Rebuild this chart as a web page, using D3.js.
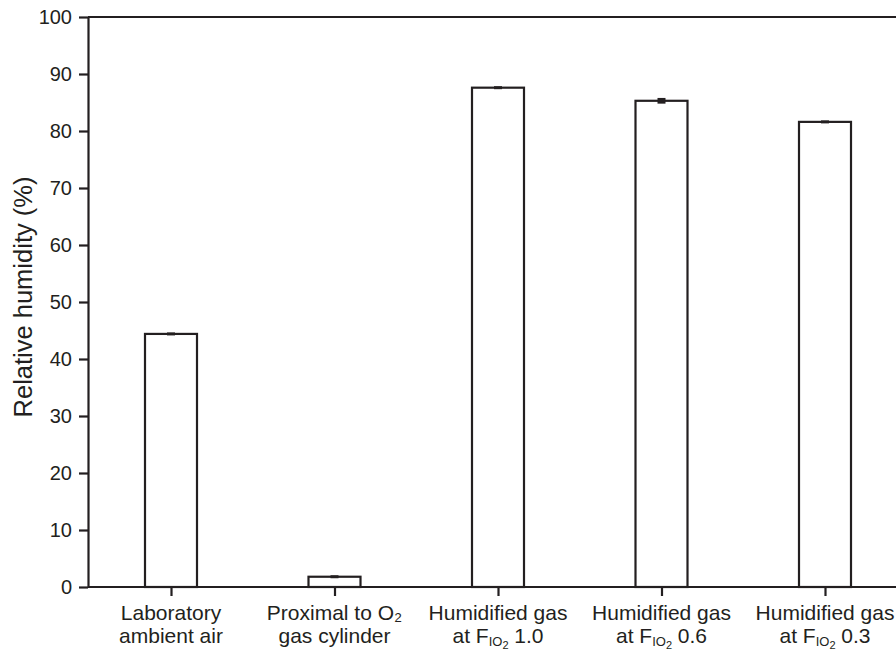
<!DOCTYPE html>
<html>
<head>
<meta charset="utf-8">
<script src="https://cdn.jsdelivr.net/npm/d3@7"></script>
<style>
	body { margin: 0; background: #fff; }
	svg text { font-family: "Liberation Sans", Arial, sans-serif; fill: #231f20; }
</style>
</head>
<body>
<svg id="chart" width="896" height="650"></svg>
<script>
// categories and values
var categories = ["lab", "proximal", "fio10", "fio06", "fio03"];
var humidity = [44.4, 1.8, 87.6, 85.3, 81.6];
var errors = [0.2, 0.2, 0.2, 0.5, 0.2];
var yTicks = [0, 10, 20, 30, 40, 50, 60, 70, 80, 90, 100];
// label lines: first line, second line (or null), FIO2 value (or null)
var labelLine1 = ["Laboratory", "Proximal to O\u2082", "Humidified gas", "Humidified gas", "Humidified gas"];
var labelLine2 = ["ambient air", "gas cylinder", null, null, null];
var fioValues = [null, null, "1.0", "0.6", "0.3"];

var ink = "#231f20";
var svg = d3.select("#chart");
var plotLeft = 88, plotRight = 896, plotTop = 17, plotBottom = 587;
var barWidth = 52;

var x = d3.scalePoint().domain(categories).range([171, 825]);
var y = d3.scaleLinear().domain([0, 100]).range([plotBottom, plotTop]);

// top frame line
svg.append("line")
	.attr("x1", plotLeft).attr("x2", plotRight)
	.attr("y1", plotTop).attr("y2", plotTop)
	.attr("stroke", ink).attr("stroke-width", 2.2);

// y axis
var yAxis = svg.append("g")
	.attr("transform", "translate(" + plotLeft + ",0)")
	.call(d3.axisLeft(y).tickValues(yTicks).tickSize(9).tickSizeOuter(0).tickPadding(7));
yAxis.select(".domain").attr("stroke", ink).attr("stroke-width", 2.2);
yAxis.selectAll(".tick line").attr("stroke", ink).attr("stroke-width", 2.2);
yAxis.selectAll(".tick text").style("font-size", "20px").attr("fill", ink);

// x axis ticks
var xAxis = svg.append("g")
	.attr("transform", "translate(0," + plotBottom + ")")
	.call(d3.axisBottom(x).tickSize(9).tickFormat(""));
xAxis.select(".domain").remove();
xAxis.selectAll(".tick line").attr("stroke", ink).attr("stroke-width", 2.2);

// bars
svg.selectAll(".bar")
	.data(humidity)
	.enter().append("rect")
	.attr("class", "bar")
	.attr("x", function(d, i) { return x(categories[i]) - barWidth / 2; })
	.attr("y", function(d) { return y(d); })
	.attr("width", barWidth)
	.attr("height", function(d) { return plotBottom - y(d); })
	.attr("fill", "#fff")
	.attr("stroke", ink)
	.attr("stroke-width", 2.2);

// error bars (tiny, drawn as solid blocks)
svg.selectAll(".err")
	.data(humidity)
	.enter().append("rect")
	.attr("class", "err")
	.attr("x", function(d, i) { return x(categories[i]) - 4; })
	.attr("y", function(d, i) { return Math.min(y(d + errors[i]), y(d) - 1.5); })
	.attr("width", 8)
	.attr("height", function(d, i) { return Math.max(y(d - errors[i]) - y(d + errors[i]), 3); })
	.attr("fill", ink);

// bottom axis line over the bars
svg.append("line")
	.attr("x1", plotLeft).attr("x2", plotRight)
	.attr("y1", plotBottom).attr("y2", plotBottom)
	.attr("stroke", ink).attr("stroke-width", 2.2);

// x labels
categories.forEach(function(c, i) {
	var cx = x(c);
	svg.append("text")
		.attr("text-anchor", "middle")
		.attr("x", cx).attr("y", 620)
		.style("font-size", "21px")
		.text(labelLine1[i]);
	var l2 = svg.append("text")
		.attr("text-anchor", "middle")
		.attr("x", cx).attr("y", 643)
		.style("font-size", "21px");
	if (labelLine2[i] != null) {
		l2.text(labelLine2[i]);
	} else {
		l2.append("tspan").text("at F");
		l2.append("tspan").attr("dy", 3).style("font-size", "13px").text("IO");
		l2.append("tspan").attr("dy", 3).style("font-size", "11px").text("2");
		l2.append("tspan").attr("dy", -6).text(" " + fioValues[i]);
	}
});

// y title
svg.append("text")
	.attr("transform", "translate(32,297) rotate(-90)")
	.attr("text-anchor", "middle")
	.style("font-size", "25.5px")
	.text("Relative humidity (%)");
</script>
</body>
</html>
